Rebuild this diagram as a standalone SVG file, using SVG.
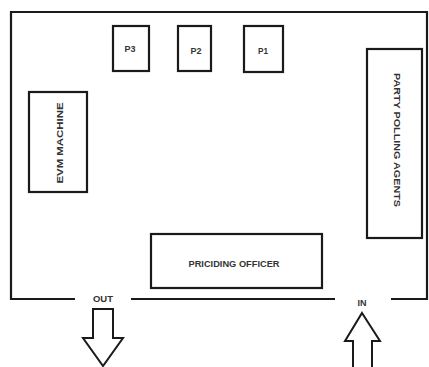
<svg xmlns="http://www.w3.org/2000/svg" width="429" height="367" viewBox="0 0 429 367">
<style>
.b{fill:#fff;stroke:#1a1a1a;stroke-width:2.2}
.w{fill:none;stroke:#1a1a1a;stroke-width:2.2}
.t{font-family:"Liberation Sans",Arial,sans-serif;font-weight:bold;font-size:9.5px;fill:#333;text-anchor:middle;dominant-baseline:central}
.a{fill:#fff;stroke:#1a1a1a;stroke-width:2;stroke-linejoin:miter}
</style>
<rect width="429" height="367" fill="#fff"/>
<g id="walls">
<polyline class="w" points="75,299 11,299 11,12 427,12 427,299 391,299"/>
<line class="w" x1="131" y1="299" x2="335" y2="299"/>
</g>
<g id="p3"><rect class="b" x="113" y="26" width="36" height="45"/><text class="t" x="130" y="48" textLength="11" lengthAdjust="spacingAndGlyphs">P3</text></g>
<g id="p2"><rect class="b" x="178" y="26" width="33" height="45"/><text class="t" x="196" y="50" textLength="11" lengthAdjust="spacingAndGlyphs">P2</text></g>
<g id="p1"><rect class="b" x="244" y="26" width="39" height="46"/><text class="t" x="263" y="50" textLength="10" lengthAdjust="spacingAndGlyphs">P1</text></g>
<g id="evm"><rect class="b" x="29" y="92" width="58" height="100"/><text class="t" transform="translate(59,143) rotate(-90)" x="0" y="0" textLength="81" lengthAdjust="spacingAndGlyphs">EVM MACHINE</text></g>
<g id="agents"><rect class="b" x="367" y="49" width="55" height="189"/><text class="t" transform="translate(397,140) rotate(90)" x="0" y="0" textLength="134" lengthAdjust="spacingAndGlyphs">PARTY POLLING AGENTS</text></g>
<g id="officer"><rect class="b" x="151" y="234" width="171" height="54"/><text class="t" x="234" y="263" textLength="91" lengthAdjust="spacingAndGlyphs">PRICIDING OFFICER</text></g>
<g id="connectors">
<polygon class="a" points="93,309 113,309 113,338 123,338 103,366 83,338 93,338"/>
<polygon class="a" points="362,313 380,341 372,341 372,369 353,369 353,341 345,341"/>
</g>
<g id="out"><text class="t" x="103" y="298" textLength="20" lengthAdjust="spacingAndGlyphs">OUT</text></g>
<g id="in"><text class="t" x="362" y="302" textLength="9" lengthAdjust="spacingAndGlyphs">IN</text></g>
</svg>
